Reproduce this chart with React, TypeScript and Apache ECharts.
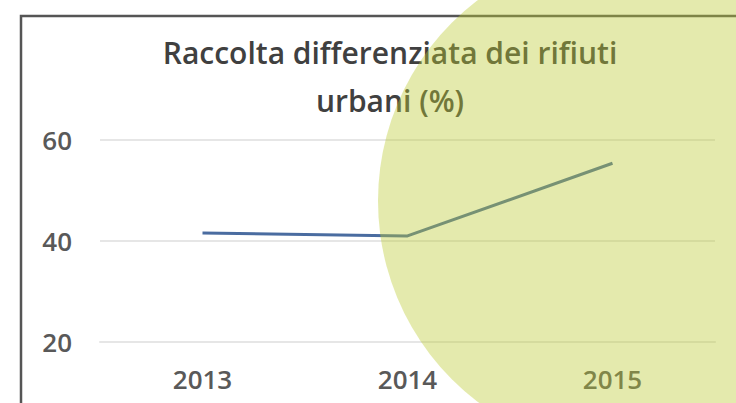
import React, { useEffect, useRef } from "react";
import * as echarts from "echarts";

const categories = ["2013", "2014", "2015"];
const values = [41.6, 41.0, 55.4];
const titleLines = ["Raccolta differenziata dei rifiuti", "urbani (%)"];
const yMin = 20;
const yMax = 60;
const yInterval = 20;

export default function App() {
  const ref = useRef<HTMLDivElement>(null);
  useEffect(() => {
    if (!ref.current) return;
    const chart = echarts.init(ref.current, null, { renderer: "svg" });
    chart.setOption({
      animation: false,
      backgroundColor: "#ffffff",
      title: {
        text: titleLines.join("\n"),
        left: 390,
        top: 28,
        padding: 0,
        textAlign: "center",
        textStyle: {
          fontFamily: "Open Sans",
          fontSize: 30,
          fontWeight: 600,
          color: "#404040",
          lineHeight: 48,
        },
      },
      grid: { left: 100, right: 21, top: 140, bottom: 61, containLabel: false },
      xAxis: {
        type: "category",
        data: categories,
        boundaryGap: true,
        axisLine: { show: true, lineStyle: { color: "#e6e6e6", width: 2 } },
        axisTick: { show: false },
        axisLabel: {
          margin: 24,
          fontFamily: "Open Sans",
          fontSize: 26,
          fontWeight: 600,
          color: "#595959",
        },
      },
      yAxis: {
        type: "value",
        min: yMin,
        max: yMax,
        interval: yInterval,
        axisLine: { show: false },
        axisTick: { show: false },
        splitLine: { lineStyle: { color: "#e6e6e6", width: 2 } },
        axisLabel: {
          margin: 28,
          fontFamily: "Open Sans",
          fontSize: 26,
          fontWeight: 600,
          color: "#595959",
        },
      },
      series: [
        {
          type: "line",
          data: values,
          symbol: "none",
          lineStyle: { color: "#4a6ca0", width: 3 },
        },
      ],
      graphic: [
        {
          type: "polyline",
          z: 50,
          shape: { points: [[21, 430], [21, 16], [760, 16]] },
          style: { stroke: "#555555", lineWidth: 2.5, fill: null },
        },
        {
          type: "circle",
          z: 100,
          shape: { cx: 630, cy: 201, r: 252 },
          style: { fill: "rgba(187,202,50,0.4)" },
        },
      ],
    });
    return () => chart.dispose();
  }, []);
  return (
    <div
      ref={ref}
      style={{ position: "fixed", left: 0, top: 0, width: 736, height: 403 }}
    />
  );
}
